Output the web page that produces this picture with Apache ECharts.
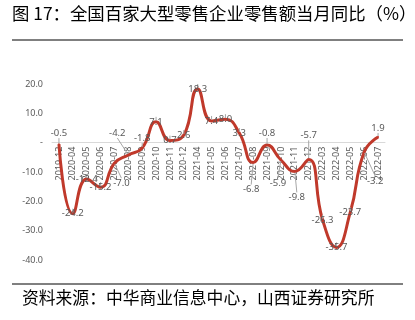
<!DOCTYPE html>
<html><head><meta charset="utf-8">
<script src="https://cdn.jsdelivr.net/npm/echarts@6/dist/echarts.min.js"></script>
<style>html,body{margin:0;padding:0;background:#fff}#c{width:415px;height:320px}</style>
</head><body><div id="c"></div>
<script>
var categories = ['2019-12','2020-04','2020-05','2020-06','2020-07','2020-08','2020-09','2020-10','2020-11','2020-12','2021-04','2021-05','2021-06','2021-07','2021-08','2021-09','2021-10','2021-11','2021-12','2022-03','2022-04','2022-05','2022-06','2022-07'];
var values = [-0.5,-24.2,-12.4,-15.2,-7.0,-4.2,-1.8,7.1,0.7,2.6,18.3,7.4,8.0,3.3,-6.8,-0.8,-5.9,-9.8,-5.7,-26.3,-35.7,-23.7,-3.2,1.9];
var yMin = -40, yMax = 20, yStep = 10;
var titleText = '图 17：全国百家大型零售企业零售额当月同比（%）';
var sourceText = '资料来源：中华商业信息中心，山西证券研究所';
// label displacement (pixels) for labels moved off their point
var labelShift = {0:[0,-11],4:[7,20],5:[-11,-22],6:[0,-10],14:[-2,27],15:[0,-12],16:[-3,23],17:[2,26],18:[0,-24],22:[11,29],23:[0,-9]};

var gTop = 84, gH = 176;
var zeroH = gH * yMax / (yMax - yMin);
var chart = echarts.init(document.getElementById('c'), null, {renderer:'canvas'});
chart.setOption({
  animation:false,
  grid:[{left:52,right:30,top:gTop,height:gH,containLabel:false},
        {left:52,right:30,top:gTop,height:zeroH,containLabel:false}],
  xAxis:[{type:'category',data:categories,boundaryGap:true,gridIndex:0,show:false},
    {type:'category',data:categories,boundaryGap:true,gridIndex:1,position:'bottom',
    axisLine:{show:true,onZero:false,lineStyle:{color:'#d9d9d9',width:1}},
    axisTick:{show:false},
    axisLabel:{rotate:90,interval:0,fontSize:9,color:'#595959',fontFamily:'Noto Sans',margin:4}}],
  yAxis:[{type:'value',min:yMin,max:yMax,interval:yStep,gridIndex:0,
    axisLine:{show:false},axisTick:{show:false},splitLine:{show:false},
    axisLabel:{fontSize:9,color:'#595959',fontFamily:'Noto Sans',margin:9,
      formatter:function(v){return v===0?'-':v.toFixed(1);}}},
    {type:'value',min:0,max:yMax,gridIndex:1,show:false,splitLine:{show:false}}],
  series:[{type:'line',data:values,xAxisIndex:0,yAxisIndex:0,smooth:0.5,symbol:'circle',symbolSize:2,showSymbol:true,
    lineStyle:{color:'#c0392b',width:3},itemStyle:{color:'#c0392b'},
    label:{show:true,position:'inside',fontSize:9.5,color:'#595959',fontFamily:'Noto Sans',
      formatter:function(p){return p.value.toFixed(1);}},
    labelLine:{show:true,lineStyle:{color:'#a6a6a6',width:1}},
    labelLayout:function(p){var s=labelShift[p.dataIndex]; return s?{dx:s[0],dy:s[1]}:{};},
    z:3
  }],
  graphic:[
    {type:'text',left:12,top:5,style:{text:titleText,font:'17.4px "Noto Sans CJK SC"',fill:'#000'}},
    {type:'line',shape:{x1:12,y1:40,x2:403,y2:40},style:{stroke:'#000',lineWidth:1}},
    {type:'line',shape:{x1:12,y1:284,x2:403,y2:284},style:{stroke:'#000',lineWidth:1}},
    {type:'text',left:22,top:289,style:{text:sourceText,font:'16.8px "Noto Sans CJK SC"',fill:'#000'}}
  ]
});
</script></body></html>
